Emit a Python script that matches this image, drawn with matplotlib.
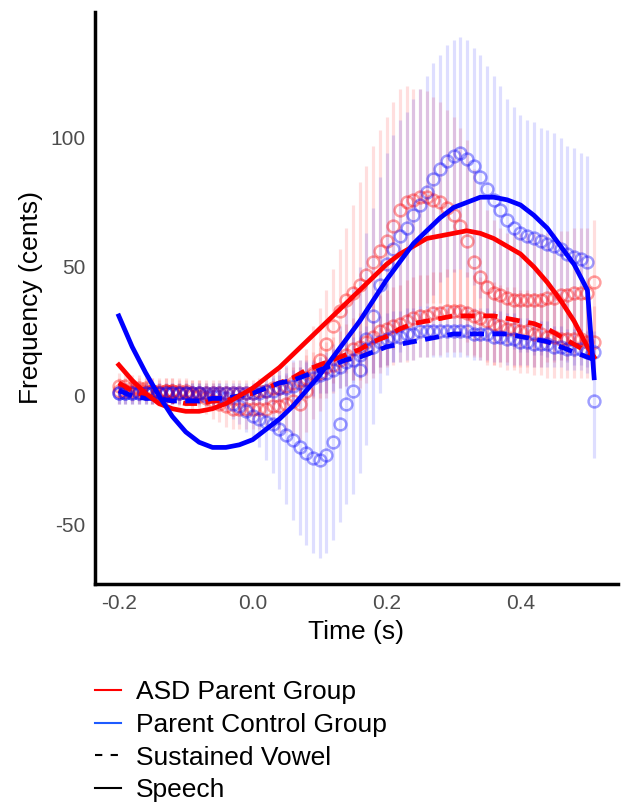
import numpy as np
import matplotlib
matplotlib.use("Agg")
from matplotlib import pyplot as plt
from matplotlib.lines import Line2D

plt.rcParams['font.family'] = ['Liberation Sans', 'DejaVu Sans']
plt.rcParams['axes.unicode_minus'] = False

# time points of the averaged contours (s)
t = np.round(np.arange(-0.20, 0.515, 0.01), 2)

# mean pitch response (cents)
asd_speech = [2, 2, 2, 2, 2, 2, 1, 2, 2, 1,
              1, 0, 0, -1, -2, -3, -4, -5, -5, -5,
              -5, -5, -5, -4, -4, -3, -2, -3, 2, 9,
              14, 20, 27, 33, 37, 40, 43, 47, 52, 56,
              60, 66, 72, 75, 76, 77, 77, 76, 75, 73,
              70, 66, 60, 52, 46, 42, 40, 39, 38, 37,
              37, 37, 37, 37, 38, 38, 39, 39, 40, 40,
              40, 44]
ctl_speech = [1, 1, 1, 1, 1, 1, 1, 1, 1, 1,
              1, 1, 1, 0, 0, 0, -1, -3, -4, -6,
              -8, -9, -10, -11, -13, -15, -17, -20, -22, -24,
              -25, -23, -18, -11, -3, 2, 10, 22, 31, 43,
              51, 57, 62, 65, 70, 74, 79, 84, 88, 91,
              93, 94, 92, 89, 85, 80, 76, 72, 68, 65,
              63, 62, 61, 60, 59, 58, 57, 55, 54, 53,
              52, -2]
asd_vowel = [4, 4, 3, 3, 3, 2, 2, 2, 2, 2,
             2, 1, 1, 1, 1, 1, 1, 1, 1, 1,
             1, 2, 2, 3, 3, 4, 5, 6, 7, 8,
             9, 11, 12, 14, 16, 18, 19, 21, 23, 25,
             26, 27, 28, 29, 30, 31, 31, 32, 32, 33,
             33, 33, 32, 31, 30, 29, 28, 27, 26, 26,
             25, 25, 24, 24, 23, 23, 22, 22, 22, 22,
             21, 21]
ctl_vowel = [1, 1, 1, 1, 1, 1, 1, 1, 1, 1,
             1, 1, 1, 1, 1, 1, 1, 1, 1, 1,
             1, 1, 2, 2, 3, 3, 4, 5, 6, 7,
             8, 9, 10, 11, 13, 14, 16, 18, 19, 21,
             22, 23, 23, 24, 24, 25, 25, 25, 25, 25,
             25, 25, 25, 24, 24, 24, 23, 23, 22, 22,
             21, 21, 20, 20, 20, 19, 19, 18, 18, 18,
             17, 17]

# error bar half widths (cents)
asd_speech_err = [5, 5, 5, 5, 5, 5, 5, 5, 5, 5,
                  5, 6, 6, 6, 7, 7, 8, 8, 8, 8,
                  8, 8, 8, 9, 10, 11, 13, 14, 16, 18,
                  20, 21, 22, 24, 28, 34, 40, 42, 45, 47,
                  48, 48, 47, 45, 43, 42, 41, 40, 39, 38,
                  38, 38, 39, 36, 31, 30, 28, 26, 25, 26,
                  26, 26, 26, 26, 25, 25, 25, 25, 25, 25,
                  25, 24]
ctl_speech_err = [4, 4, 4, 4, 4, 4, 4, 4, 4, 4,
                  4, 4, 4, 4, 4, 5, 5, 6, 7, 8,
                  9, 11, 15, 19, 23, 27, 31, 34, 36, 37,
                  38, 38, 38, 38, 39, 40, 40, 41, 42, 42,
                  43, 44, 45, 45, 45, 45, 45, 45, 44, 45,
                  45, 45, 46, 46, 47, 48, 48, 48, 47, 47,
                  46, 45, 45, 44, 44, 44, 43, 42, 42, 41,
                  41, 22]
asd_vowel_err = [5, 5, 5, 5, 5, 5, 5, 5, 5, 5,
                 5, 5, 5, 5, 5, 5, 5, 5, 5, 5,
                 5, 5, 6, 6, 7, 7, 8, 8, 9, 9,
                 10, 10, 11, 11, 12, 12, 13, 13, 14, 14,
                 15, 15, 15, 16, 16, 16, 16, 16, 16, 16,
                 16, 16, 16, 16, 16, 16, 16, 16, 16, 16,
                 16, 16, 16, 16, 16, 16, 15, 15, 15, 15,
                 14, 14]
ctl_vowel_err = [4, 4, 4, 4, 4, 4, 4, 4, 4, 4,
                 4, 4, 4, 4, 4, 4, 4, 4, 4, 4,
                 4, 4, 5, 5, 5, 6, 6, 6, 7, 7,
                 7, 8, 8, 8, 9, 9, 9, 9, 10, 10,
                 10, 10, 10, 10, 10, 10, 10, 10, 10, 10,
                 10, 10, 10, 10, 10, 10, 10, 10, 10, 10,
                 9, 9, 9, 9, 9, 8, 8, 8, 8, 8,
                 8, 8]

# fitted curves
fit_t = np.append(np.round(np.arange(-0.20, 0.501, 0.02), 2), 0.51)
asd_speech_fit = [12, 6, 1, -3, -5, -6, -6, -5, -3, 0, 3, 7, 11, 16, 21, 26, 31, 36, 41,
                  46, 51, 55, 58, 61, 62, 63, 64, 63, 61, 58, 55, 50, 44, 37, 29, 19, 15]
ctl_speech_fit = [31, 19, 9, 0, -8, -14, -18, -20, -20, -19, -17, -13, -9, -4, 2, 8, 15, 22, 29,
                  37, 45, 52, 59, 64, 69, 73, 75, 77, 77, 76, 74, 70, 65, 58, 51, 41, 7]
asd_vowel_fit = [5, 2, 0, -1, -2, -3, -3, -2, -2, 0, 1, 3, 5, 7, 10, 12, 14, 16, 18,
                 21, 23, 26, 28, 29, 30, 31, 31, 31, 31, 30, 29, 28, 26, 23, 20, 17, 15]
ctl_vowel_fit = [2, 0, -1, -1, -2, -2, -2, -1, -1, 0, 1, 3, 5, 6, 8, 10, 12, 14, 15,
                 17, 19, 20, 21, 22, 23, 24, 24, 24, 24, 24, 23, 22, 21, 19, 17, 15, 14]

red = '#FF0000'
blue = '#0000FF'

fig = plt.figure(figsize=(6.21, 8.02), dpi=100)
ax = fig.add_axes([0.153, 0.272, 0.842, 0.713])

series = [(asd_speech, asd_speech_err, red),
          (ctl_speech, ctl_speech_err, blue),
          (asd_vowel, asd_vowel_err, red),
          (ctl_vowel, ctl_vowel_err, blue)]

for m, e, c in series:
    m = np.array(m, dtype=float)
    e = np.array(e, dtype=float)
    ax.vlines(t, m - e, m + e, color=c, alpha=0.13, lw=2.3, zorder=1)

for m, e, c in series:
    ax.plot(t, m, ls='none', marker='o', ms=8.5, mfc='none', mec=c,
            mew=1.8, alpha=0.38, zorder=2)

ax.plot(fit_t, asd_vowel_fit, color=red, lw=3.4, dashes=(3, 1.8), zorder=3)
ax.plot(fit_t, ctl_vowel_fit, color=blue, lw=3.4, dashes=(3, 1.8), zorder=3)
ax.plot(fit_t, asd_speech_fit, color=red, lw=3.4, zorder=4)
ax.plot(fit_t, ctl_speech_fit, color=blue, lw=3.4, zorder=4)

ax.set_xlim(-0.2355, 0.5455)
ax.set_ylim(-72.9, 148.8)
ax.set_xticks([-0.2, 0.0, 0.2, 0.4])
ax.set_xticklabels(['-0.2', '0.0', '0.2', '0.4'])
ax.set_yticks([-50, 0, 50, 100])
ax.tick_params(length=0, labelsize=15, labelcolor='#4D4D4D', pad=7)
for s in ['top', 'right']:
    ax.spines[s].set_visible(False)
for s in ['left', 'bottom']:
    ax.spines[s].set_linewidth(2.5)
ax.set_xlabel('Time (s)', fontsize=19, labelpad=5)
ax.set_ylabel('Frequency (cents)', fontsize=19, labelpad=5)

handles = [Line2D([], [], color=red, lw=1.5),
           Line2D([], [], color='#1E5BFF', lw=1.5),
           Line2D([], [], color='black', lw=1.5, dashes=(3.5, 4)),
           Line2D([], [], color='black', lw=1.5)]
labels = ['ASD Parent Group', 'Parent Control Group', 'Sustained Vowel', 'Speech']
fig.legend(handles, labels, loc='upper left', bbox_to_anchor=(0.153, 0.152),
           frameon=False, fontsize=19, handlelength=1.0, handletextpad=0.55,
           labelspacing=0.33, borderpad=0, borderaxespad=0)

fig.savefig('out.png', dpi=100)
